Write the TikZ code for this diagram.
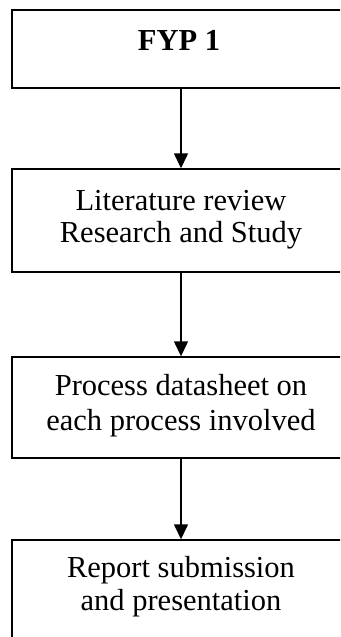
\documentclass[tikz,border=0pt]{standalone}
\usepackage{fontspec}
\setmainfont{Liberation Serif}
\usetikzlibrary{arrows.meta}
\begin{document}
\begin{tikzpicture}[x=1pt,y=1pt,
  stepbox/.style={rectangle, draw=black, line width=1.4pt, minimum width=338pt, inner sep=0pt},
  txtline/.style={font=\fontsize{30.5}{32}\selectfont, anchor=base, inner sep=0pt},
  flow/.style={-{Triangle[length=15pt,width=14pt]}, line width=1.4pt}]
\useasboundingbox (0,0) rectangle (340,-637);
\clip (0,0) rectangle (340,-637);

% boxes of the flow chart
\node[stepbox, minimum height=78pt]  (b1) at (181,-49)    {};
\node[stepbox, minimum height=103pt] (b2) at (181,-220.5) {};
\node[stepbox, minimum height=101pt] (b3) at (181,-407.5) {};
\node[stepbox, minimum height=120pt] (b4) at (181,-600)   {};

% box texts, one node per line
\node[txtline, font=\fontsize{30.5}{32}\selectfont\bfseries] (t1) at (179,-50) {FYP 1};
\node[txtline] (t2a) at (181,-210) {Literature review};
\node[txtline] (t2b) at (181,-242) {Research and Study};
\node[txtline] (t3a) at (181,-395) {Process datasheet on};
\node[txtline] (t3b) at (181,-430) {each process involved};
\node[txtline] (t4a) at (181,-577) {Report submission};
\node[txtline] (t4b) at (181,-610) {and presentation};

% connectors
\draw[flow] (b1.south) -- (b2.north);
\draw[flow] (b2.south) -- (b3.north);
\draw[flow] (b3.south) -- (b4.north);
\end{tikzpicture}
\end{document}
